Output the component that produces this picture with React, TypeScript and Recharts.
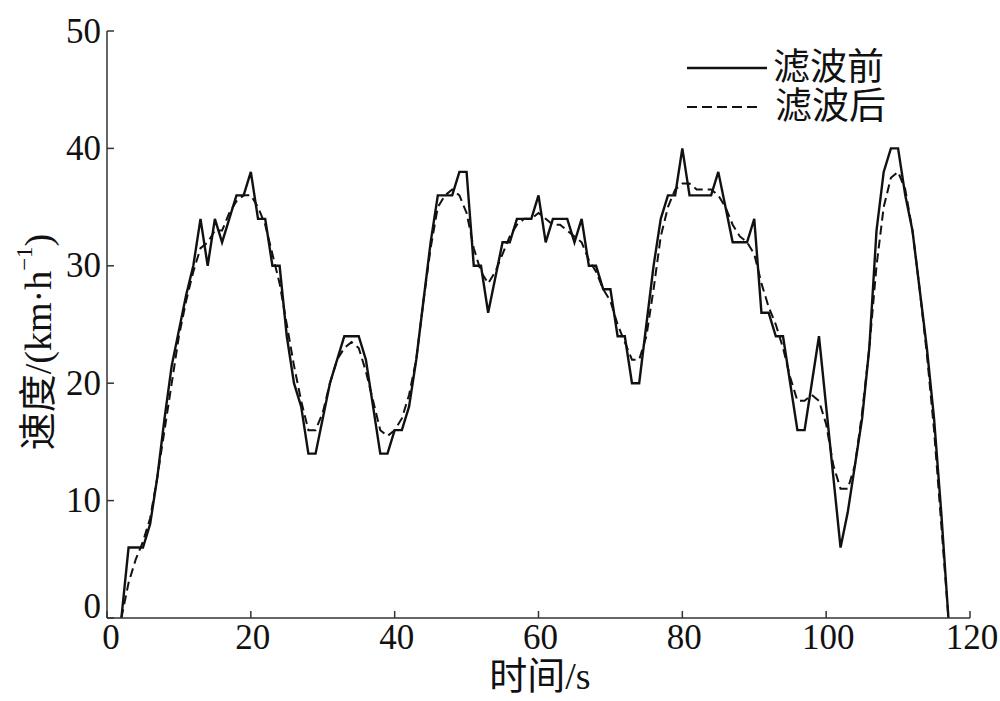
import React from 'react';
import { LineChart, Line, XAxis, YAxis, Legend } from 'recharts';

// time axis, seconds
const timeSec = [
  2, 3, 4, 5, 6, 7, 8, 9, 10, 11, 12, 13, 14, 15, 16, 17, 18, 19, 20, 21,
  22, 23, 24, 25, 26, 27, 28, 29, 30, 31, 32, 33, 34, 35, 36, 37, 38, 39, 40, 41,
  42, 43, 44, 45, 46, 47, 48, 49, 50, 51, 52, 53, 54, 55, 56, 57, 58, 59, 60, 61,
  62, 63, 64, 65, 66, 67, 68, 69, 70, 71, 72, 73, 74, 75, 76, 77, 78, 79, 80, 81,
  82, 83, 84, 85, 86, 87, 88, 89, 90, 91, 92, 93, 94, 95, 96, 97, 98, 99, 100, 101,
  102, 103, 104, 105, 106, 107, 108, 109, 110, 111, 112, 113, 114, 115, 116, 117,
];

// speed before filtering (km/h)
const speedRaw = [
  0, 6, 6, 6, 8, 12, 17, 21.5, 24.5, 27.5, 30, 34, 30, 34, 32, 34, 36, 36, 38, 34,
  34, 30, 30, 24, 20, 18, 14, 14, 17, 20, 22, 24, 24, 24, 22, 18, 14, 14, 16, 16,
  18, 22, 27, 32, 36, 36, 36, 38, 38, 30, 30, 26, 29, 32, 32, 34, 34, 34, 36, 32,
  34, 34, 34, 32, 34, 30, 30, 28, 28, 24, 24, 20, 20, 25, 30, 34, 36, 36, 40, 36,
  36, 36, 36, 38, 35, 32, 32, 32, 34, 26, 26, 24, 24, 20, 16, 16, 20, 24, 18, 12,
  6, 9, 13, 17, 23, 33, 38, 40, 40, 36, 33, 28, 23, 17, 9, 0,
];

// speed after filtering (km/h)
const speedFiltered = [
  0, 3, 5, 6.5, 8.5, 12, 16, 20, 24, 27, 29.5, 31.5, 32, 33, 33, 34.5, 35.5, 36, 36, 35,
  33.5, 31, 28.5, 25, 21.5, 18.5, 16, 16, 17.5, 20, 22, 23, 23.5, 23, 21, 18.5, 16, 15.5, 16, 17,
  19, 22, 27, 31.5, 35, 36, 36.5, 36, 34.5, 31.5, 29.5, 28.5, 29.5, 31, 32.5, 33.5, 34, 34, 34.5, 34,
  33.5, 33.5, 33, 32.5, 32, 30.5, 29.5, 28, 27, 25, 23.5, 22, 22, 24, 28, 32.5, 35, 36.5, 37, 37,
  36.5, 36.5, 36.5, 36, 35, 33.5, 32.5, 32, 31, 28.5, 26.5, 25, 23, 20.5, 18.5, 18.5, 19, 18.5, 16.5, 13,
  11, 11, 13, 17.5, 23, 30, 35, 37.5, 38, 36.5, 33, 28, 22.5, 16, 8, 0,
];

const xTicks = [0, 20, 40, 60, 80, 100, 120];
const yTicks = [0, 10, 20, 30, 40, 50];

const data = timeSec.map((t, i) => ({ t, raw: speedRaw[i], filtered: speedFiltered[i] }));

const SERIF = '"Liberation Serif", "Times New Roman", "Noto Sans CJK SC", serif';
const INK = '#111';
const AXIS = '#333';

// ticks point inward, labels outside
const YTick = ({ x, y, payload }: any) => (
  <g>
    <line x1={x} x2={x + 7} y1={y} y2={y} stroke={AXIS} strokeWidth={1.5} />
    <text
      x={x - 6}
      y={payload.value === 0 ? y - 12 : y}
      textAnchor="end"
      dominantBaseline="central"
      fontFamily={SERIF}
      fontSize={35}
      fill={INK}
    >
      {payload.value}
    </text>
  </g>
);

const XTick = ({ x, y, payload }: any) => (
  <g>
    <line x1={x} x2={x} y1={y} y2={y - 7} stroke={AXIS} strokeWidth={1.5} />
    <text
      x={x + (payload.value === 0 ? 4 : 2)}
      y={y + 31}
      textAnchor="middle"
      fontFamily={SERIF}
      fontSize={35}
      fill={INK}
    >
      {payload.value}
    </text>
  </g>
);

const YLabel = () => (
  <text
    transform="translate(38, 342) rotate(-90)"
    textAnchor="middle"
    dominantBaseline="central"
    fontFamily={SERIF}
    fontSize={38}
    fill={INK}
  >
    <tspan>速度/(km·h</tspan>
    <tspan dy={-14} fontSize={23}>−1</tspan>
    <tspan dy={14}>)</tspan>
  </text>
);

const XLabel = () => (
  <text x={540} y={676} textAnchor="middle" dominantBaseline="central" fontFamily={SERIF} fontSize={38} fill={INK}>
    时间/s
  </text>
);

const LegendBox = () => (
  <div style={{ fontFamily: SERIF, fontSize: 37, color: INK, lineHeight: '39px' }}>
    <div style={{ display: 'flex', alignItems: 'center' }}>
      <svg width={86} height={10}>
        <line x1={0} x2={80} y1={5} y2={5} stroke={INK} strokeWidth={2.4} />
      </svg>
      <span>滤波前</span>
    </div>
    <div style={{ display: 'flex', alignItems: 'center' }}>
      <svg width={88} height={10}>
        <line x1={0} x2={74} y1={5} y2={5} stroke={INK} strokeWidth={2} strokeDasharray="10 5" />
      </svg>
      <span>滤波后</span>
    </div>
  </div>
);

export default function App() {
  return (
    <div style={{ position: 'absolute', left: 0, top: 0, width: 1000, height: 701, background: '#fff' }}>
      <LineChart width={1000} height={701} data={data} margin={{ top: 31, right: 30, left: 0, bottom: 0 }}>
        <XAxis
          type="number"
          dataKey="t"
          domain={[0, 120]}
          ticks={xTicks}
          height={83}
          stroke={AXIS}
          strokeWidth={1.5}
          tickSize={0}
          tickMargin={0}
          tickLine={false}
          tick={XTick}
          label={<XLabel />}
        />
        <YAxis
          type="number"
          domain={[0, 50]}
          ticks={yTicks}
          width={107}
          stroke={AXIS}
          strokeWidth={1.5}
          tickSize={0}
          tickMargin={0}
          tickLine={false}
          tick={YTick}
          label={<YLabel />}
        />
        <Legend
          layout="horizontal"
          verticalAlign="middle"
          align="center"
          content={<LegendBox />}
          wrapperStyle={{ position: 'absolute', left: 687, top: 48, width: 240 }}
        />
        <Line
          type="linear"
          dataKey="raw"
          name="滤波前"
          stroke={INK}
          strokeWidth={2.4}
          dot={false}
          isAnimationActive={false}
        />
        <Line
          type="linear"
          dataKey="filtered"
          name="滤波后"
          stroke={INK}
          strokeWidth={2}
          strokeDasharray="9 5"
          dot={false}
          isAnimationActive={false}
        />
      </LineChart>
    </div>
  );
}
